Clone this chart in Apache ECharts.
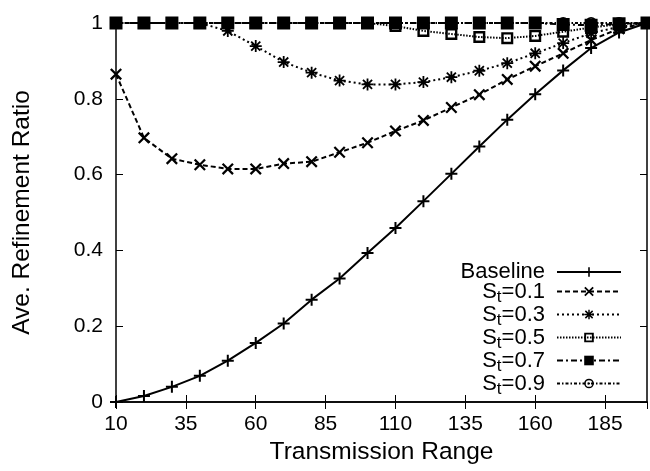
<!DOCTYPE html>
<html><head><meta charset="utf-8">
<script src="https://cdn.jsdelivr.net/npm/echarts@6/dist/echarts.min.js"></script>
<style>html,body{margin:0;padding:0;background:#fff}#c{width:650px;height:471px}</style>
</head><body><div id="c"></div>
<script>
const xValues = [10,20,30,40,50,60,70,80,90,100,110,120,130,140,150,160,170,180,190,200];
const baseline = [0,0.016,0.04,0.069,0.109,0.156,0.207,0.27,0.326,0.393,0.459,0.53,0.602,0.674,0.745,0.812,0.875,0.934,0.975,1.0];
const st01 = [0.865,0.697,0.642,0.626,0.615,0.615,0.629,0.634,0.659,0.684,0.715,0.743,0.777,0.811,0.851,0.886,0.92,0.955,0.985,1.0];
const st03 = [1,1,1,1,0.979,0.939,0.897,0.869,0.848,0.838,0.838,0.844,0.857,0.874,0.894,0.92,0.947,0.973,0.99,1];
const st05 = [1,1,1,1,1,1,1,1,1,1,0.992,0.979,0.971,0.963,0.96,0.966,0.977,0.988,0.997,1];
const st07 = [1,1,1,1,1,1,1,1,1,1,1,1,1,1,1,1,0.996,0.994,0.998,1];
const st09 = [1,1,1,1,1,1,1,1,1,1,1,1,1,1,1,1,1,1,1,1];
const seriesNames = ['Baseline','St=0.1','St=0.3','St=0.5','St=0.7','St=0.9'];
const xTickLabels = ['10','35','60','85','110','135','160','185'];
const yTickLabels = ['0','0.2','0.4','0.6','0.8','1'];

const SYM = {
  plus: 'path://M5,0H7V5H12V7H7V12H5V7H0V5H5Z',
  cross: 'path://M0,1.6L1.6,0L12,10.4L10.4,12ZM10.4,0L12,1.6L1.6,12L0,10.4Z',
  star: 'path://M5.1,0H6.9V5.1H12V6.9H6.9V12H5.1V6.9H0V5.1H5.1ZM0.8,2.1L2.1,0.8L11.2,9.9L9.9,11.2ZM9.9,0.8L11.2,2.1L2.1,11.2L0.8,9.9Z',
  openSquare: 'path://M0,0H12V12H0ZM2.4,2.4V9.6H9.6V2.4Z',
  fillSquare: 'path://M0,0H12V12H0Z',
  circleDot: 'path://M6,0A6,6 0 1,1 6,12A6,6 0 1,1 6,0ZM6,1.8A4.2,4.2 0 1,0 6,10.2A4.2,4.2 0 1,0 6,1.8ZM6,4.6A1.4,1.4 0 1,1 6,7.4A1.4,1.4 0 1,1 6,4.6Z'
};
const FONT = 'Liberation Sans';
function pairs(arr){ return xValues.map((x,i)=>[x,arr[i]]); }
function mk(name, data, symbol, size, dash){
  return {
    name, type:'line', data: pairs(data), symbol, symbolSize: size,
    showAllSymbol: true, animation:false,
    lineStyle:{color:'#000', width:2, type: dash},
    itemStyle:{color:'#000', borderWidth:0},
    emphasis:{disabled:true}
  };
}
const chart = echarts.init(document.getElementById('c'));
const axisCommon = {
  axisLine:{show:true, lineStyle:{color:'#000', width:1.5}},
  axisTick:{show:true, inside:true, length:7, lineStyle:{color:'#000', width:1}},
  splitLine:{show:false}
};
chart.setOption({
  animation:false,
  backgroundColor:'#fff',
  grid:{left:116, right:3, top:23, bottom:69, containLabel:false},
  xAxis:[
    Object.assign({type:'value', min:10, max:200, interval:25, position:'bottom',
      name:'Transmission Range', nameLocation:'middle', nameGap:38,
      nameTextStyle:{fontSize:24.5, fontFamily:FONT, color:'#000'},
      axisLabel:{showMaxLabel:false, margin:12, fontSize:21, fontFamily:FONT, color:'#000',
        formatter:(v)=>{ const i = xTickLabels.indexOf(String(v)); return i>=0 ? xTickLabels[i] : ''; }}
    }, axisCommon),
    Object.assign({type:'value', min:10, max:200, interval:25, position:'top', axisLabel:{show:false}}, axisCommon)
  ],
  yAxis:[
    Object.assign({type:'value', min:0, max:1, interval:0.2, position:'left',
      name:'Ave. Refinement Ratio', nameLocation:'middle', nameGap:81, nameRotate:90,
      nameTextStyle:{fontSize:24.5, fontFamily:FONT, color:'#000'},
      axisLabel:{margin:13, fontSize:21, fontFamily:FONT, color:'#000',
        formatter:(v)=>yTickLabels[Math.round(v*5)]}
    }, axisCommon),
    Object.assign({type:'value', min:0, max:1, interval:0.2, position:'right', axisLabel:{show:false}}, axisCommon)
  ],
  legend:{
    orient:'vertical', right:23, top:256, align:'right', itemWidth:64, itemHeight:12, itemGap:-6,
    data: seriesNames,
    textStyle:{fontSize:22, fontFamily:FONT, color:'#000', lineHeight:22,
      rich:{
        m:{fontSize:22, fontFamily:FONT, color:'#000', lineHeight:22},
        e:{fontSize:22, fontFamily:FONT, color:'#000', lineHeight:22, padding:[0,7,0,0]},
        sub:{fontSize:17, fontFamily:FONT, color:'#000', lineHeight:4, padding:[12,0,0,0]}
      }},
    formatter:(n)=> n==='Baseline' ? '{e|Baseline}' : '{m|S}{sub|t}{e|' + n.slice(2) + '}'
  },
  series:[
    mk('Baseline', baseline, SYM.plus, 12, 'solid'),
    mk('St=0.1', st01, SYM.cross, 12, [5,3]),
    mk('St=0.3', st03, SYM.star, 12, [2,3]),
    mk('St=0.5', st05, SYM.openSquare, 12, [1.5,1.5]),
    mk('St=0.7', st07, SYM.fillSquare, 13, [6,3,2,3]),
    mk('St=0.9', st09, SYM.circleDot, 12, [3,2,1.5,2])
  ]
});
</script>
</body></html>
